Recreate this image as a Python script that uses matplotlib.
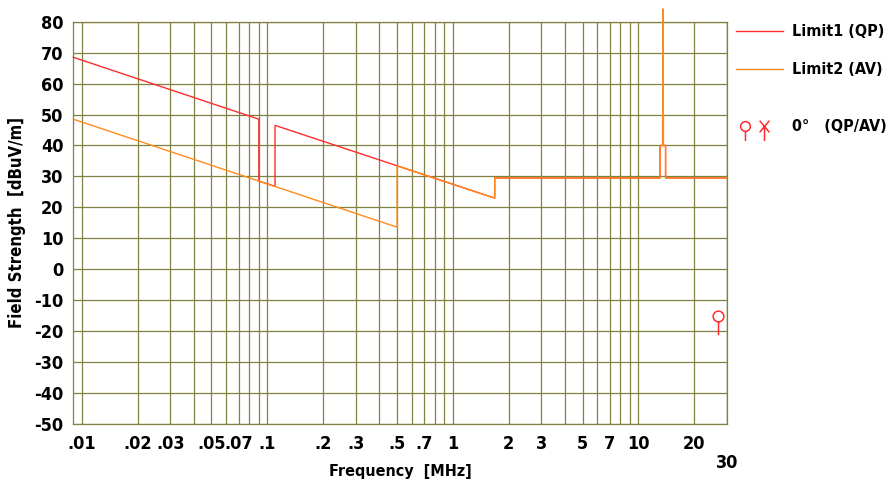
import matplotlib
matplotlib.use("Agg")
import matplotlib.pyplot as plt
from matplotlib.lines import Line2D
from matplotlib.path import Path

plt.rcParams["font.family"] = ["DejaVu Sans", "Noto Sans CJK JP"]
plt.rcParams["font.stretch"] = "condensed"
plt.rcParams["font.weight"] = "bold"
plt.rcParams["axes.unicode_minus"] = False

# 리밋 라인 데이터 (MHz, dBuV/m)
qp_freq = [0.009, 0.09, 0.09, 0.11, 0.11, 1.68, 1.68, 13.07, 13.07, 13.5, 13.5,
           13.56, 13.56, 13.56, 13.62, 13.62, 14.0, 14.0, 30]
qp_level = [68.5, 48.5, 28.5, 26.8, 46.5, 23.0, 29.5, 29.5, 40, 40, 50,
            50, 84, 50, 50, 40, 40, 29.5, 29.5]

av_freq = [0.009, 0.5, 0.5, 1.68, 1.68, 13.07, 13.07, 13.5, 13.5,
           13.56, 13.56, 13.56, 13.62, 13.62, 14.0, 14.0, 30]
av_level = [48.5, 13.6, 33.4, 23.0, 29.5, 29.5, 40, 40, 50,
            50, 84, 50, 50, 40, 40, 29.5, 29.5]

# 측정 포인트 (0°, QP)
peak_freq = [26.8]
peak_qp = [-15.2]

x_ticks = [0.01, 0.02, 0.03, 0.05, 0.07, 0.1, 0.2, 0.3, 0.5, 0.7, 1, 2, 3, 5, 7, 10, 20]
x_labels = [".01", ".02", ".03", ".05", ".07", ".1", ".2", ".3", ".5", ".7",
            "1", "2", "3", "5", "7", "10", "20"]
y_ticks = list(range(-50, 81, 10))

RED = "#ff2d2d"
ORANGE = "#ff8a1c"
GRID = "#808040"

# 원 + 아래 줄기 마커
circ = Path.circle((0, 0), 1.0)
stem = Path([(0, -1.0), (0, -3.5)], [Path.MOVETO, Path.LINETO])
pin_marker = Path.make_compound_path(circ, stem)
stem_l = Path([(0, -1.0), (0, -3.0)], [Path.MOVETO, Path.LINETO])
pin_legend = Path.make_compound_path(circ, stem_l)
cross = Path([(-1, 1.2), (1, -1.2), (1, 1.2), (-1, -1.2), (0, 0), (0, -3.0)],
             [Path.MOVETO, Path.LINETO, Path.MOVETO, Path.LINETO, Path.MOVETO, Path.LINETO])

W, H = 892, 487
fig = plt.figure(figsize=(W / 100, H / 100), dpi=100)
ax = fig.add_axes([73.3 / W, 1 - 424 / H, (727 - 73.3) / W, (424 - 21.7) / H])

ax.set_xscale("log")
ax.set_xlim(0.009, 30)
ax.set_ylim(-50, 80)

# 그리드
minor = [k * 10.0 ** e for e in range(-2, 2) for k in range(1, 10)]
minor = [v for v in minor if v <= 30] + [30]
for v in minor:
    ax.axvline(v, color=GRID, lw=0.9, zorder=1)
for v in y_ticks:
    ax.axhline(v, color=GRID, lw=0.9, zorder=1)
for s in ax.spines.values():
    s.set_color(GRID)
    s.set_linewidth(0.9)

ax.plot(qp_freq, qp_level, color=RED, lw=1.0, zorder=3, clip_on=False)
ax.plot(av_freq, av_level, color=ORANGE, lw=1.0, zorder=4, clip_on=False)

ax.plot(peak_freq, peak_qp, linestyle="none", marker=pin_marker, ms=27,
        mec=RED, mfc="none", mew=1.1, zorder=5)

ax.set_xticks(x_ticks)
ax.set_xticklabels(x_labels)
ax.xaxis.set_minor_locator(matplotlib.ticker.NullLocator())
ax.set_yticks(y_ticks)
ax.set_yticklabels([str(v) for v in y_ticks])
ax.tick_params(axis="both", length=0, labelsize=13)
ax.tick_params(axis="x", pad=8)
ax.tick_params(axis="y", pad=7)
ax.text(30, -0.097, "30", transform=ax.get_xaxis_transform(), ha="center", va="center",
        fontsize=13, fontweight="bold")

ax.set_xlabel("Frequency  [MHz]", fontsize=11.5, fontweight="bold", labelpad=8)
ax.set_ylabel("Field Strength  [dBuV/m]", fontsize=12, fontweight="bold", labelpad=6)

# 범례 (수동 배치)
def fx(px):
    return px / W

def fy(py):
    return 1 - py / H

fig.add_artist(Line2D([fx(736), fx(783)], [fy(31), fy(31)], color=RED, lw=1.0))
fig.add_artist(Line2D([fx(736), fx(783)], [fy(69), fy(69)], color=ORANGE, lw=1.0))
fig.text(fx(792), fy(31), "Limit1 (QP)", ha="left", va="center", fontsize=11.5, fontweight="bold")
fig.text(fx(792), fy(69), "Limit2 (AV)", ha="left", va="center", fontsize=11.5, fontweight="bold")
fig.add_artist(Line2D([fx(745)], [fy(126)], linestyle="none", marker=pin_legend, ms=21,
                      mec=RED, mfc="none", mew=1.1))
fig.add_artist(Line2D([fx(764)], [fy(126)], linestyle="none", marker=cross, ms=21,
                      mec=RED, mfc="none", mew=1.1))
fig.text(fx(792), fy(127), "0°   (QP/AV)", ha="left", va="center", fontsize=11.5, fontweight="bold")

fig.savefig("out.png", dpi=100)
